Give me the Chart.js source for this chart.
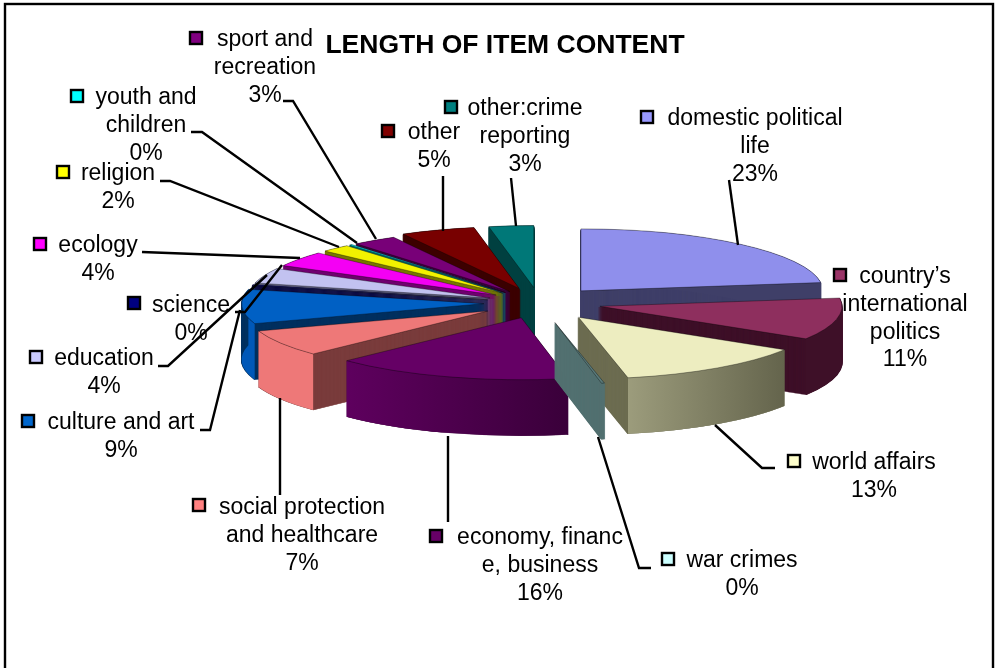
<!DOCTYPE html>
<html><head><meta charset="utf-8">
<style>html,body{margin:0;padding:0;background:#fff;overflow:hidden}canvas{display:block}</style>
<script src="https://cdn.jsdelivr.net/npm/chart.js@4/dist/chart.umd.min.js"></script>
</head><body>
<canvas id="c" width="995" height="668"></canvas>
<script>
const categories = ["domestic political life","country’s international politics","world affairs","war crimes","economy, finance, business","social protection and healthcare","culture and art","science","education","ecology","religion","youth and children","sport and recreation","other","other:crime reporting"];
const values = [23,11,13,0.2,16,7,9,0.2,4,4,2,0.2,3,5,3];
const labelLines = [["domestic political","life"],["country’s","international","politics"],["world affairs"],["war crimes"],["economy, financ","e, business"],["social protection","and healthcare"],["culture and art"],["science"],["education"],["ecology"],["religion"],["youth and","children"],["sport and","recreation"],["other"],["other:crime","reporting"]];
const explode = [.26,.255,.28,.32,.25,.25,.23,.22,.22,.22,.22,.22,.22,.25,.25];
const topColors = ["#8f8fec","#8e2f5e","#ededc0","#5a7a7a","#650065","#ee7878","#0060c4","#000078","#c2c2f0","#f400f4","#f2f200","#00f0f0","#780078","#780000","#007878"];
const cutColors = ["#3f3f68","#3e1028","#6c6c50","#527070","#3c003c","#7a3c3c","#00305f","#00003c","#5a5a78","#700070","#777700","#007070","#3c003c","#3c0000","#004040"];
const wallA = ["#3f3f68","#3e1028","#9c9c7c","#527070","#5e005e","#ee7878","#0058b8","#00003c","#5a5a78","#700070","#777700","#007070","#3c003c","#3c0000","#004040"];
const wallB = ["#3f3f68","#3e1028","#64644c","#527070","#3a003a","#ee7878","#0058b8","#00003c","#5a5a78","#700070","#777700","#007070","#3c003c","#3c0000","#004040"];
const keyColors = ["#9999ff","#993366","#ffffcc","#ccffff","#660066","#ff8080","#0066cc","#000080","#ccccff","#ff00ff","#ffff00","#00ffff","#800080","#800000","#008080"];
const titleText = "LENGTH OF ITEM CONTENT";

// label placement: text centre x, first line y, key centre x/y, leader polyline
const labelPlace = [
 {x:755,y:119,kx:647,ky:117,l:[[729,180],[738,245]]},
 {x:905,y:277,kx:840,ky:275,l:[]},
 {x:874,y:463,kx:794,ky:461,l:[[775,468],[762,468],[715,425]]},
 {x:742,y:561,kx:668,ky:559,l:[[651,568],[639,568],[598,437]]},
 {x:540,y:538,kx:436,ky:536,l:[[448,522],[448,436]]},
 {x:302,y:508,kx:199,ky:505,l:[[280,495],[280,398]]},
 {x:121,y:423,kx:28,ky:421,l:[[200,430],[210,430],[240,310]]},
 {x:191,y:306,kx:134,ky:303,l:[[235,312],[245,312],[282,265]]},
 {x:104,y:359,kx:36,ky:357,l:[[158,366],[168,366],[267,275]]},
 {x:98,y:246,kx:40,ky:244,l:[[142,252],[300,258]]},
 {x:118,y:174,kx:63,ky:172,l:[[160,181],[170,181],[339,247]]},
 {x:146,y:98,kx:77,ky:96,l:[[191,132],[202,132],[357,243]]},
 {x:265,y:40,kx:196,ky:38,l:[[283,101],[293,101],[376,239]]},
 {x:434,y:133,kx:388,ky:131,l:[[443,176],[443,231]]},
 {x:525,y:109,kx:451,ky:107,l:[[511,178],[516,226]]}
];
const pieCenter = {x:539.5,y:303}, tilt = 0.256, depth = 56, lineGap = 27.7;
const FONT = '"Liberation Sans", Arial, sans-serif';

function sector(ctx, el){
  ctx.beginPath();
  ctx.moveTo(el.x, el.y);
  ctx.arc(el.x, el.y, el.outerRadius, el.startAngle, el.endAngle);
  ctx.closePath();
}
const pie3d = {
  id:'pie3d',
  beforeDatasetDraw(chart, args){
    const ctx = chart.ctx, arcs = args.meta.data;
    const order = arcs.map((a,i)=>i).sort((a,b)=>{
      const m = i => (arcs[i].startAngle+arcs[i].endAngle)/2;
      return Math.sin(m(a)) - Math.sin(m(b));
    });
    for (const i of order){
      const el = arcs[i], mid = (el.startAngle+el.endAngle)/2, off = explode[i]*el.outerRadius;
      ctx.save();
      ctx.translate(pieCenter.x, pieCenter.y);
      ctx.scale(1, tilt);
      ctx.translate(-el.x + Math.cos(mid)*off, -el.y + Math.sin(mid)*off);
      // extruded block: cut faces
      ctx.fillStyle = cutColors[i];
      ctx.strokeStyle = cutColors[i];
      ctx.lineWidth = 1.5;
      for (let d = depth; d > 0; d--){
        ctx.save(); ctx.translate(0, d/tilt); sector(ctx, el); ctx.fill(); ctx.stroke(); ctx.restore();
      }
      // rim wall
      const g = ctx.createLinearGradient(el.x+Math.cos(el.startAngle)*el.outerRadius,0,el.x+Math.cos(el.endAngle)*el.outerRadius,0);
      g.addColorStop(0, wallB[i]); g.addColorStop(1, wallA[i]);
      ctx.fillStyle = g;
      ctx.beginPath();
      ctx.arc(el.x, el.y, el.outerRadius, el.startAngle, el.endAngle);
      ctx.arc(el.x, el.y + depth/tilt, el.outerRadius, el.endAngle, el.startAngle, true);
      ctx.closePath(); ctx.fill();
      // top face, drawn by the library's arc element
      el.draw(ctx);
      ctx.restore();
    }
    return false;
  },
  afterDraw(chart){
    const ctx = chart.ctx;
    ctx.save();
    ctx.strokeStyle = '#000'; ctx.lineWidth = 2.4; ctx.lineJoin='miter';
    ctx.strokeRect(5,4,988,690);
    labelPlace.forEach(p=>{
      if (!p.l.length) return;
      ctx.beginPath();
      p.l.forEach((q,j)=> j? ctx.lineTo(q[0],q[1]) : ctx.moveTo(q[0],q[1]));
      ctx.stroke();
    });
    const total = values.reduce((a,b)=>a+b,0);
    ctx.font = '23px '+FONT; ctx.textAlign='center'; ctx.textBaseline='middle'; ctx.fillStyle='#000';
    labelPlace.forEach((p,i)=>{
      const lines = labelLines[i].concat(Math.round(values[i]/total*100)+'%');
      lines.forEach((t,j)=> ctx.fillText(t, p.x, p.y + j*lineGap));
      ctx.fillStyle = keyColors[i];
      ctx.fillRect(p.kx-6,p.ky-6,12,12);
      ctx.strokeRect(p.kx-6,p.ky-6,12,12);
      ctx.fillStyle='#000';
    });
    ctx.restore();
  }
};
new Chart(document.getElementById('c'),{
  type:'pie',
  data:{labels:categories,datasets:[{data:values,backgroundColor:topColors,borderColor:'rgba(0,0,0,0.55)',borderWidth:1}]},
  options:{
    responsive:false,animation:false,
    layout:{padding:{left:15,right:0,top:0,bottom:121}},
    plugins:{
      legend:{display:false},tooltip:{enabled:false},
      title:{display:true,text:titleText,color:'#000',font:{family:FONT,size:26.5,weight:'bold'},padding:{top:30,bottom:0}}
    }
  },
  plugins:[pie3d]
});
</script>
</body></html>
